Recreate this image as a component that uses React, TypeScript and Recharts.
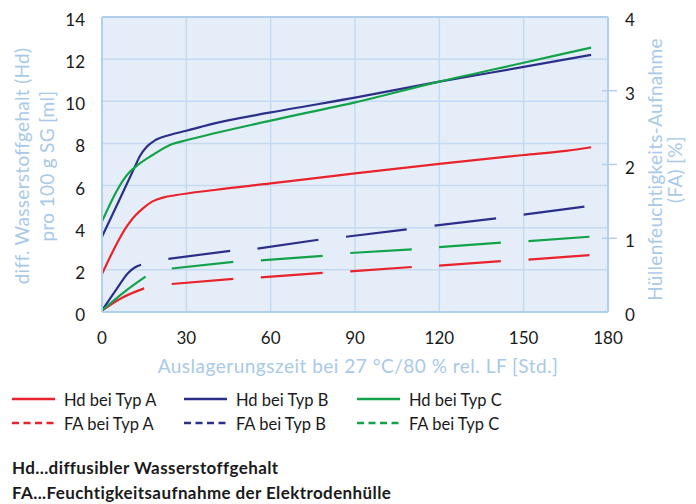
import React from 'react';
import {
  ComposedChart,
  Line,
  XAxis,
  YAxis,
  CartesianGrid,
  ReferenceLine,
} from 'recharts';

// Hd curves (left axis, ml / 100 g SG)
const hdTypA = [
  { t: 0, v: 1.8 }, { t: 9, v: 4.1 }, { t: 12, v: 4.6 }, { t: 15, v: 4.97 },
  { t: 18, v: 5.25 }, { t: 22, v: 5.44 }, { t: 26, v: 5.54 }, { t: 40, v: 5.79 },
  { t: 60, v: 6.1 }, { t: 90, v: 6.58 }, { t: 120, v: 7.03 }, { t: 150, v: 7.45 },
  { t: 165, v: 7.65 }, { t: 174, v: 7.82 },
];
const hdTypB = [
  { t: 0, v: 3.57 }, { t: 6, v: 5.27 }, { t: 11.5, v: 6.84 }, { t: 13.5, v: 7.4 },
  { t: 16, v: 7.85 }, { t: 19, v: 8.16 }, { t: 24, v: 8.4 }, { t: 30, v: 8.6 },
  { t: 40, v: 8.95 }, { t: 60, v: 9.47 }, { t: 90, v: 10.17 }, { t: 120, v: 10.93 },
  { t: 150, v: 11.63 }, { t: 174, v: 12.2 },
];
const hdTypC = [
  { t: 0, v: 4.3 }, { t: 9.5, v: 6.6 }, { t: 12, v: 6.9 }, { t: 18, v: 7.45 },
  { t: 25, v: 7.97 }, { t: 30, v: 8.15 }, { t: 60, v: 9.08 }, { t: 90, v: 9.95 },
  { t: 120, v: 10.93 }, { t: 150, v: 11.83 }, { t: 174, v: 12.55 },
];

// FA curves (right axis, %), null = gap between dashes
const faTypA = [
  { t: 0, v: 0.02 }, { t: 7, v: 0.19 }, { t: 15, v: 0.32 }, { t: 20, v: null },
  { t: 24.8, v: 0.38 }, { t: 46.7, v: 0.45 }, { t: 51, v: null },
  { t: 56.5, v: 0.47 }, { t: 78.5, v: 0.53 }, { t: 83, v: null },
  { t: 88.3, v: 0.55 }, { t: 110.2, v: 0.61 }, { t: 115, v: null },
  { t: 119.9, v: 0.63 }, { t: 141.9, v: 0.69 }, { t: 146, v: null },
  { t: 151.7, v: 0.71 }, { t: 173.4, v: 0.77 },
];
const faTypB = [
  { t: 0, v: 0.02 }, { t: 5, v: 0.3 }, { t: 9.3, v: 0.53 }, { t: 11.5, v: 0.6 },
  { t: 13.9, v: 0.64 }, { t: 19, v: null },
  { t: 23.6, v: 0.72 }, { t: 45.6, v: 0.83 }, { t: 50, v: null },
  { t: 55.3, v: 0.86 }, { t: 77, v: 0.98 }, { t: 82, v: null },
  { t: 86.8, v: 1.02 }, { t: 108.4, v: 1.12 }, { t: 113, v: null },
  { t: 118.3, v: 1.17 }, { t: 140.2, v: 1.27 }, { t: 145, v: null },
  { t: 150, v: 1.32 }, { t: 171.6, v: 1.43 },
];
const faTypC = [
  { t: 0, v: 0.02 }, { t: 8.2, v: 0.28 }, { t: 15.5, v: 0.48 }, { t: 20, v: null },
  { t: 24.8, v: 0.59 }, { t: 46.7, v: 0.68 }, { t: 51, v: null },
  { t: 56.5, v: 0.7 }, { t: 78.5, v: 0.76 }, { t: 83, v: null },
  { t: 88.3, v: 0.8 }, { t: 110.2, v: 0.85 }, { t: 115, v: null },
  { t: 119.9, v: 0.88 }, { t: 141.9, v: 0.94 }, { t: 146, v: null },
  { t: 151.7, v: 0.96 }, { t: 173.4, v: 1.02 },
];

const xTicks = [0, 30, 60, 90, 120, 150, 180];
const hdTicks = [0, 2, 4, 6, 8, 10, 12, 14];
const faTicks = [0, 1, 2, 3, 4];

const RED = '#e8232b';
const BLUE = '#2c2f8a';
const GREEN = '#12a24a';
const TITLE = '#a9c9ea';
const BORDER = '#b2cfec';
const FONT = 'Lato, "Open Sans", sans-serif';

const series = [
  { name: 'Hd bei Typ A', data: hdTypA, color: RED, axis: 'left', dashed: false },
  { name: 'Hd bei Typ B', data: hdTypB, color: BLUE, axis: 'left', dashed: false },
  { name: 'Hd bei Typ C', data: hdTypC, color: GREEN, axis: 'left', dashed: false },
  { name: 'FA bei Typ A', data: faTypA, color: RED, axis: 'right', dashed: true },
  { name: 'FA bei Typ B', data: faTypB, color: BLUE, axis: 'right', dashed: true },
  { name: 'FA bei Typ C', data: faTypC, color: GREEN, axis: 'right', dashed: true },
];

const notes = [
  'Hd...diffusibler Wasserstoffgehalt',
  'FA...Feuchtigkeitsaufnahme der Elektrodenhülle',
];

const RightTick = (props: any) => {
  const { x, y, payload } = props;
  const ax = x - 17;
  const v = payload.value;
  return (
    <g>
      {v > 0 && v < 4 && (
        <line x1={ax - 6} x2={ax + 9} y1={y} y2={y} stroke={BORDER} strokeWidth={1.5} />
      )}
      <text x={x} y={y + 3} dy="0.355em" textAnchor="start" fill="#1a1a1a" fontSize={17} fontFamily={FONT}>
        {v}
      </text>
    </g>
  );
};

const LeftTitle = (props: any) => {
  const vb = props.viewBox;
  const cy = vb.y + vb.height / 2 + 1.5;
  return (
    <g fill={TITLE} fontSize={19} letterSpacing={0.3} fontFamily={FONT} textAnchor="middle">
      <text transform={`translate(${vb.x + 29},${cy}) rotate(-90)`}>diff. Wasserstoffgehalt (Hd)</text>
      <text transform={`translate(${vb.x + 54},${cy}) rotate(-90)`}>pro 100 g SG [ml]</text>
    </g>
  );
};

const RightTitle = (props: any) => {
  const vb = props.viewBox;
  const cy = vb.y + vb.height / 2 + 5;
  return (
    <g fill={TITLE} fontSize={19} letterSpacing={0.3} fontFamily={FONT} textAnchor="middle">
      <text transform={`translate(${vb.x + 54},${cy}) rotate(-90)`}>Hüllenfeuchtigkeits-Aufnahme</text>
      <text transform={`translate(${vb.x + 74},${cy}) rotate(-90)`}>(FA) [%]</text>
    </g>
  );
};

const BottomTitle = (props: any) => {
  const vb = props.viewBox;
  return (
    <text
      x={vb.x + vb.width / 2 + 3}
      y={vb.y + 61}
      textAnchor="middle"
      fill={TITLE}
      fontSize={19}
      letterSpacing={0.5}
      fontFamily={FONT}
    >
      Auslagerungszeit bei 27 °C/80 % rel. LF [Std.]
    </text>
  );
};

export default function App() {
  return (
    <div style={{ position: 'absolute', left: 0, top: 0, width: 696, height: 504, background: '#fff', fontFamily: FONT }}>
      <ComposedChart width={696} height={380} margin={{ top: 17, right: 0, bottom: 0, left: 0 }}>
        <CartesianGrid yAxisId="left" fill="#e5eef8" stroke="#c5daf0" strokeWidth={1.5} />
        <XAxis
          dataKey="t"
          type="number"
          domain={[0, 180]}
          ticks={xTicks}
          height={68}
          tickLine={false}
          tickSize={0}
          tickMargin={20}
          axisLine={{ stroke: BORDER, strokeWidth: 2 }}
          tick={{ fill: '#1a1a1a', fontSize: 17, fontFamily: FONT }}
          label={BottomTitle}
        />
        <YAxis
          yAxisId="left"
          domain={[0, 14]}
          ticks={hdTicks}
          width={102}
          tickLine={false}
          tickSize={0}
          tickMargin={17}
          axisLine={{ stroke: BORDER, strokeWidth: 2 }}
          tick={{ fill: '#1a1a1a', fontSize: 17, fontFamily: FONT, dy: 3 }}
          label={LeftTitle}
        />
        <YAxis
          yAxisId="right"
          orientation="right"
          domain={[0, 4]}
          ticks={faTicks}
          width={88}
          tickLine={false}
          tickSize={0}
          tickMargin={17}
          axisLine={{ stroke: BORDER, strokeWidth: 2 }}
          tick={<RightTick />}
          label={RightTitle}
        />
        <ReferenceLine yAxisId="left" y={14} stroke={BORDER} strokeWidth={2} />
        {series.map((s) => (
          <Line
            key={s.name}
            data={s.data}
            dataKey="v"
            name={s.name}
            yAxisId={s.axis}
            type="monotone"
            stroke={s.color}
            strokeWidth={2.2}
            dot={false}
            activeDot={false}
            connectNulls={false}
            isAnimationActive={false}
          />
        ))}
      </ComposedChart>
      <svg width={696} height={124} style={{ position: 'absolute', left: 0, top: 380 }} fontFamily={FONT}>
        {series.map((s, i) => {
          const col = i % 3;
          const row = Math.floor(i / 3);
          const x0 = [12, 184, 357][col];
          const y = [19, 43][row];
          return (
            <g key={s.name}>
              <line
                x1={x0}
                x2={x0 + 43}
                y1={y}
                y2={y}
                stroke={s.color}
                strokeWidth={2.5}
                strokeDasharray={s.dashed ? '7 4.5' : undefined}
              />
              <text x={x0 + 52} y={y + 7} fontSize={16.5} fill="#1a1a1a">
                {s.name}
              </text>
            </g>
          );
        })}
        {notes.map((n, i) => (
          <text key={n} x={12} y={94 + i * 25} fontSize={17} letterSpacing={0.4} fontWeight="bold" fill="#1a1a1a">
            {n}
          </text>
        ))}
      </svg>
    </div>
  );
}
